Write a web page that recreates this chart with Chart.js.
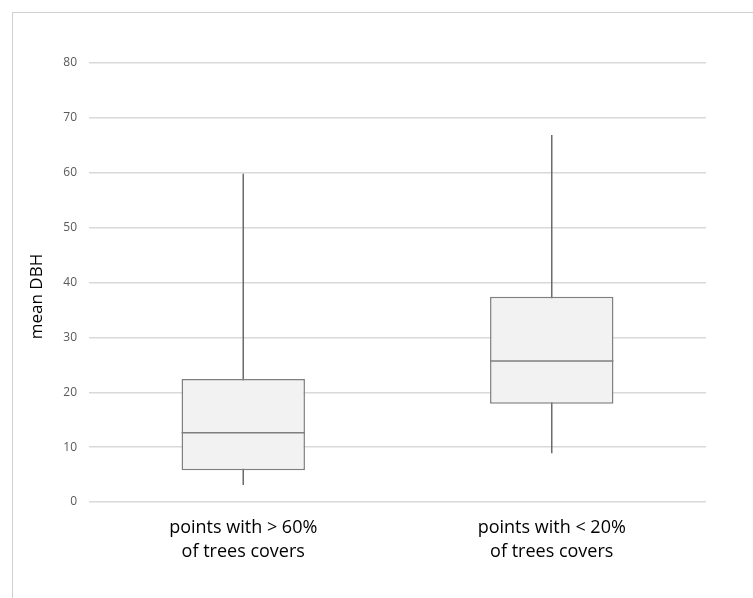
<!DOCTYPE html>
<html>
<head>
<meta charset="utf-8">
<script src="https://cdn.jsdelivr.net/npm/chart.js@4/dist/chart.umd.min.js"></script>
<style>
    html, body { margin: 0; padding: 0; background: #fff; }
    #wrap { position: relative; width: 753px; height: 598px; overflow: hidden; }
    #frame { position: absolute; left: 12px; top: 12px; width: 800px; height: 700px;
             border-left: 1px solid #d0d0d0; border-top: 1px solid #d0d0d0; }
    canvas { position: absolute; left: 0; top: 0; }
</style>
</head>
<body>
<div id="wrap">
    <div id="frame"></div>
    <canvas id="chart" width="753" height="598"></canvas>
</div>
<script>
    var categories = [
        ["points with > 60%", "of trees covers"],
        ["points with < 20%", "of trees covers"]
    ];
    var minValues = [3.1, 8.9];
    var q1Values = [5.8, 17.9];
    var medianValues = [12.6, 25.7];
    var q3Values = [22.4, 37.4];
    var maxValues = [59.8, 66.9];
    var yTitle = "mean DBH";

    var FONT = "'Open Sans', sans-serif";

    // whiskers behind the box, median line on top of it
    var boxParts = {
        id: "boxParts",
        beforeDatasetsDraw: function (chart) {
            var ctx = chart.ctx;
            var y = chart.scales.y;
            var meta = chart.getDatasetMeta(0);
            ctx.save();
            ctx.strokeStyle = "#6b6b6b";
            ctx.lineWidth = 1.5;
            meta.data.forEach(function (bar, i) {
                ctx.beginPath();
                ctx.moveTo(bar.x, y.getPixelForValue(minValues[i]));
                ctx.lineTo(bar.x, y.getPixelForValue(maxValues[i]));
                ctx.stroke();
            });
            ctx.restore();
        },
        afterDatasetsDraw: function (chart) {
            var ctx = chart.ctx;
            var y = chart.scales.y;
            var meta = chart.getDatasetMeta(0);
            ctx.save();
            ctx.strokeStyle = "#7f7f7f";
            ctx.lineWidth = 1.5;
            meta.data.forEach(function (bar, i) {
                var py = y.getPixelForValue(medianValues[i]);
                ctx.beginPath();
                ctx.moveTo(bar.x - bar.width / 2, py);
                ctx.lineTo(bar.x + bar.width / 2, py);
                ctx.stroke();
            });
            ctx.restore();
        },
        // axis title sits a bit below the middle of the axis, like the original
        afterDraw: function (chart) {
            var ctx = chart.ctx;
            var y = chart.scales.y;
            ctx.save();
            ctx.translate(37, (y.top + y.bottom) / 2 + 14);
            ctx.rotate(-Math.PI / 2);
            ctx.font = "17px " + FONT;
            ctx.fillStyle = "#000";
            ctx.textAlign = "center";
            ctx.textBaseline = "middle";
            ctx.fillText(yTitle, 0, 0);
            ctx.restore();
        }
    };

    new Chart(document.getElementById("chart"), {
        type: "bar",
        data: {
            labels: categories,
            datasets: [{
                data: q1Values.map(function (q, i) { return [q, q3Values[i]]; }),
                backgroundColor: "#f2f2f2",
                borderColor: "#7f7f7f",
                borderWidth: 1.5,
                borderSkipped: false,
                categoryPercentage: 1,
                barPercentage: 0.4
            }]
        },
        options: {
            responsive: false,
            animation: false,
            layout: { padding: { left: 0, top: 63, right: 47, bottom: 0 } },
            plugins: { legend: { display: false }, tooltip: { enabled: false } },
            scales: {
                x: {
                    grid: { display: false },
                    border: { display: false },
                    ticks: { color: "#000", font: { family: FONT, size: 18, lineHeight: 1.3333 }, padding: 6 },
                    afterFit: function (s) { s.height = 96; }
                },
                y: {
                    min: 0, max: 80,
                    grid: { color: "#d9d9d9", lineWidth: 1.5, drawTicks: false },
                    border: { display: false },
                    ticks: { stepSize: 10, color: "#595959", font: { family: FONT, size: 12 }, padding: 12 },
                    afterFit: function (s) { s.width = 89; }
                }
            }
        },
        plugins: [boxParts]
    });
</script>
</body>
</html>
